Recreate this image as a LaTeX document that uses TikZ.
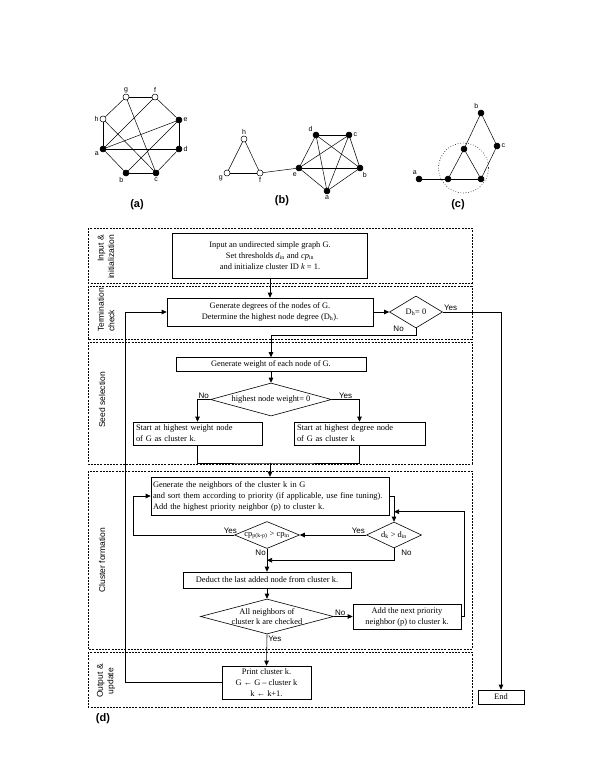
\documentclass[tikz,border=0pt]{standalone}
\usepackage{fontspec}
\setmainfont{Liberation Serif}
\setsansfont{Liberation Sans}
\usepackage{tikz}
\usetikzlibrary{shapes.geometric, arrows.meta, calc}

\begin{document}
\begin{tikzpicture}[x=1pt, y=-1pt,
  >={Triangle[length=5pt, width=4.5pt]},
  vtx/.style={circle, draw, fill=black, inner sep=0pt, minimum size=6pt, label distance=1pt},
  ovtx/.style={circle, draw, fill=white, inner sep=0pt, minimum size=6pt, label distance=1pt},
  vlbl/.style={font=\fontsize{7}{8}\sffamily, inner sep=1pt},
  subcap/.style={font=\fontsize{11}{12}\sffamily\bfseries},
  lane/.style={draw, dash pattern=on 2pt off 1.2pt, line width=0.5pt},
  lanetxt/.style={font=\fontsize{8.5}{10.5}\sffamily, rotate=90},
  proc/.style={draw, line width=0.6pt, font=\fontsize{8.4}{11}\selectfont, inner sep=0pt, align=center},
  decision/.style={draw, diamond, line width=0.6pt, inner sep=0pt},
  dtxt/.style={font=\fontsize{8.4}{10}\selectfont, align=center},
  yn/.style={font=\fontsize{8}{9}\sffamily, inner sep=1pt},
  flow/.style={line width=0.6pt}]

\useasboundingbox (0,0) rectangle (600,776);
\fill[white] (0,0) rectangle (600,776);

% graph (a)
\begin{scope}[line width=0.5pt]
  \node[vtx, label={[vlbl]204:a}] (A-a) at (103,149) {};
  \node[vtx, label={[vlbl]245:b}] (A-b) at (126,173) {};
  \node[vtx, label={[vlbl]below:c}] (A-c) at (156,173) {};
  \node[vtx, label={[vlbl]right:d}] (A-d) at (179,149) {};
  \node[vtx, label={[vlbl]right:e}] (A-e) at (179,120) {};
  \node[ovtx, label={[vlbl]above:f}] (A-f) at (155,97) {};
  \node[ovtx, label={[vlbl]above:g}] (A-g) at (126,97) {};
  \node[ovtx, label={[vlbl]left:h}] (A-h) at (103,119) {};
  \foreach \u/\v in {g/f, f/e, e/d, d/c, c/b, b/a, a/h, h/g, a/f, a/e, a/d, g/c, h/c, b/e}
    \draw (A-\u) -- (A-\v);
  \node[subcap] (cap-a) at (137,205) {(a)};
\end{scope}

% graph (b)
\begin{scope}[line width=0.5pt]
  \node[ovtx, label={[vlbl]above:h}] (B-h) at (244,139) {};
  \node[ovtx, label={[vlbl]205:g}] (B-g) at (227,173) {};
  \node[ovtx, label={[vlbl]below:f}] (B-f) at (260,173) {};
  \node[vtx, label={[vlbl]250:e}] (B-e) at (299,168) {};
  \node[vtx, label={[vlbl]135:d}] (B-d) at (316,135) {};
  \node[vtx, label={[vlbl]right:c}] (B-c) at (349,135) {};
  \node[vtx, label={[vlbl]300:b}] (B-b) at (360,168) {};
  \node[vtx, label={[vlbl]below:a}] (B-a) at (327,191) {};
  \foreach \u/\v in {h/g, h/f, g/f, f/e, d/c, d/e, d/b, d/a, c/e, c/b, c/a, e/b, e/a, b/a}
    \draw (B-\u) -- (B-\v);
  \node[subcap] (cap-b) at (282,201) {(b)};
\end{scope}

% graph (c)
\begin{scope}[line width=0.5pt]
  \draw[dotted, line width=0.6pt] (463.5,168) circle (25);
  \node[vtx, label={[vlbl]110:a}] (C-a) at (419,179) {};
  \node[vtx, label={[vlbl]115:b}] (C-b) at (481,113) {};
  \node[vtx, label={[vlbl]right:c}] (C-c) at (497,146) {};
  \node[vtx] (C-t) at (464,149) {};
  \node[vtx] (C-l) at (448,179) {};
  \node[vtx] (C-r) at (481,179) {};
  \foreach \u/\v in {a/l, l/r, t/l, t/r, t/b, b/c, c/r}
    \draw (C-\u) -- (C-\v);
  \node[subcap] (cap-c) at (458,205) {(c)};
\end{scope}

% lanes
\draw[lane] (88,228) rectangle (472,283);
\draw[lane] (88,286) rectangle (472,339);
\draw[lane] (88,342) rectangle (472,464);
\draw[lane] (88,471) rectangle (472,649);
\draw[lane] (88,652) rectangle (472,707);

\node[lanetxt, align=right] (l-inp) at (106,257) {Input \&\\initialization};
\node[lanetxt, align=left] (l-term) at (106,310) {Termination\\check};
\node[lanetxt] (l-seed) at (102,400) {Seed selection};
\node[lanetxt] (l-clus) at (102,560) {Cluster formation};
\node[lanetxt, align=center] (l-out) at (106,681) {Output \&\\update};

% flow chart
\node[proc, minimum width=195, minimum height=45] (inp) at (270,255.5)
  {Input an undirected simple graph G.\\Set thresholds \textit{d}\textsubscript{in} and \textit{cp}\textsubscript{in}\\and initialize cluster ID \textit{k} = 1.};
\node[proc, minimum width=206, minimum height=28] (deg) at (270,312)
  {Generate degrees of the nodes of G.\\Determine the highest node degree (D\textsubscript{h}).};
\node[decision, minimum width=53, minimum height=32,
  label={[dtxt]center:D\textsubscript{h}= 0}] (dh) at (416,312) {};
\node[proc, minimum width=190, minimum height=14] (wgt) at (271,364.5)
  {Generate weight of each node of G.};
\node[decision, minimum width=121, minimum height=33,
  label={[dtxt]center:highest node weight= 0}] (hw) at (271,399.5) {};
\node[proc, minimum height=23, text width=123, align=left, inner xsep=3pt] (sw) at (197.5,433.5)
  {Start at highest weight node\\of G as cluster k.};
\node[proc, minimum height=23, text width=125, align=left, inner xsep=3pt] (sd) at (359.5,433.5)
  {Start at highest degree node\\of G as cluster k};
\node[proc, minimum height=38, text width=234, align=left, inner xsep=2pt] (nbr) at (270,496)
  {Generate the neighbors of the cluster k in G\\and sort them according to priority (if applicable, use fine tuning).\\Add the highest priority neighbor (p) to cluster k.};
\node[decision, minimum width=55, minimum height=26,
  label={[dtxt]center:d\textsubscript{k} > d\textsubscript{in}}] (dk) at (394,535) {};
\node[decision, minimum width=65, minimum height=27,
  label={[dtxt]center:cp\textsubscript{p(k-p)} > cp\textsubscript{in}}] (cp) at (267,535) {};
\node[proc, minimum width=168, minimum height=16] (ded) at (267,580)
  {Deduct the last added node from cluster k.};
\node[decision, minimum width=133, minimum height=35,
  label={[dtxt]center:All neighbors of\\cluster k are checked}] (chk) at (267,616.5) {};
\node[proc, minimum width=108, minimum height=25] (nxt) at (407,616.5)
  {Add the next priority\\neighbor (p) to cluster k.};
\node[proc, minimum width=89, minimum height=33] (prt) at (266.5,682.5)
  {Print cluster k.\\G ← G – cluster k\\k ← k+1.};
\node[proc, minimum width=46, minimum height=14] (stop) at (501,697) {End};

\draw[flow, ->] (inp.south) -- (deg.north);
\draw[flow, ->] (deg.east) -- (dh.west);
\draw[flow, ->] (dh.east) node[yn, anchor=south west] {Yes} -| (stop.north);
\draw[flow, ->] (dh.south) node[yn, anchor=north east, xshift=-11pt, yshift=4pt] {No}
  -- ++(0,7) -| (wgt.north);
\draw[flow, ->] (wgt.south) -- (hw.north);
\draw[flow, ->] (hw.west) node[yn, anchor=south east] {No} -| (sw.north);
\draw[flow, ->] (hw.east) node[yn, anchor=south west, xshift=6pt] {Yes} -| (sd.north);
\coordinate (mrg) at (270,463);
\draw[flow] (sw.south) |- (mrg) -| (sd.south);
\draw[flow, ->] (mrg) -- (nbr.north);
\draw[flow, ->] (nbr.east) -| (dk.north);
\draw[flow, ->] (dk.west) node[yn, anchor=south east] {Yes} -- (cp.east);
\draw[flow, ->] (cp.west) node[yn, anchor=south east, xshift=4pt] {Yes} -- ++(-101,0) |- (nbr.west);
\draw[flow, ->] (cp.south) node[yn, anchor=north east] {No} -- (ded.north);
\draw[flow, ->] (dk.south) node[yn, anchor=north west, xshift=6pt] {No}
  |- ($(cp.south)!.5!(ded.north)$);
\draw[flow, ->] (ded.south) -- (chk.north);
\draw[flow, ->] (chk.east) node[yn, anchor=south west] {No} -- (nxt.west);
\draw[flow, ->] (nxt.east) -- ++(3,0) |- ($(dk.north)+(0,-10)$);
\draw[flow, ->] (chk.south) node[yn, anchor=north west] {Yes} -- (prt.north);
\draw[flow, ->] (prt.west) -- ++(-96,0) |- (deg.west);

\node[subcap] (cap-d) at (103,719) {(d)};

\end{tikzpicture}
\end{document}
